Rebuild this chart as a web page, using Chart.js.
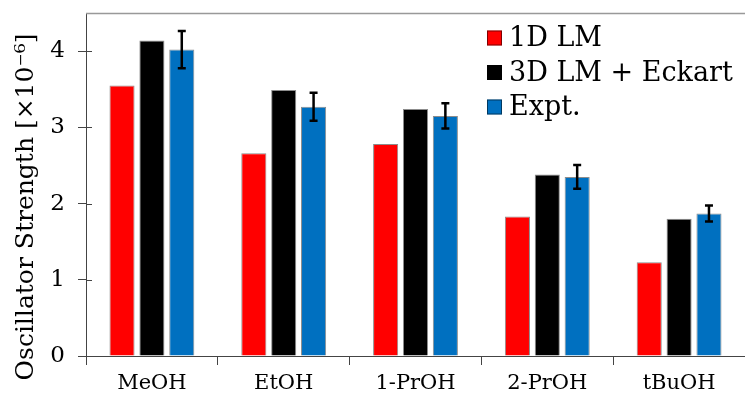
<!DOCTYPE html>
<html lang="en">
<head>
    <meta charset="UTF-8">
    <title>Oscillator Strength</title>
    <style>
        html, body { margin: 0; padding: 0; background: #fff; }
        #wrap { width: 745px; height: 394px; position: relative; }
    </style>
    <script src="https://cdn.jsdelivr.net/npm/chart.js"></script>
</head>
<body>
    <div id="wrap"><canvas id="chart" width="745" height="394"></canvas></div>

    <script>
        const categories = ["MeOH", "EtOH", "1-PrOH", "2-PrOH", "tBuOH"];
        const lm1d = [3.55, 2.66, 2.78, 1.83, 1.23];
        const lm3d = [4.14, 3.49, 3.24, 2.38, 1.80];
        const expt = [4.02, 3.27, 3.15, 2.35, 1.87];
        const exptErr = [0.245, 0.185, 0.165, 0.155, 0.105];
        const yTicks = [0, 1, 2, 3, 4];
        const yTitle = "Oscillator Strength [×10⁻⁶]";

        const SERIF = "'DejaVu Serif', 'Liberation Serif', serif";

        // error bars on the Expt. series
        const errorBars = {
            id: "errorBars",
            afterDatasetsDraw(chart) {
                const ctx = chart.ctx;
                const y = chart.scales.y;
                const meta = chart.getDatasetMeta(2);
                ctx.save();
                ctx.strokeStyle = "#000";
                ctx.lineWidth = 2.5;
                meta.data.forEach((bar, i) => {
                    const top = y.getPixelForValue(expt[i] + exptErr[i]);
                    const bot = y.getPixelForValue(expt[i] - exptErr[i]);
                    ctx.beginPath();
                    ctx.moveTo(bar.x, top);
                    ctx.lineTo(bar.x, bot);
                    ctx.moveTo(bar.x - 4, top);
                    ctx.lineTo(bar.x + 4, top);
                    ctx.moveTo(bar.x - 4, bot);
                    ctx.lineTo(bar.x + 4, bot);
                    ctx.stroke();
                });
                ctx.restore();
            }
        };

        // frame bits, inner y ticks, rotated title and legend
        const decorations = {
            id: "decorations",
            afterDraw(chart) {
                const ctx = chart.ctx;
                const area = chart.chartArea;
                const y = chart.scales.y;
                ctx.save();
                ctx.strokeStyle = "#999";
                ctx.lineWidth = 1.5;
                ctx.beginPath();
                ctx.moveTo(area.left, area.top + 0.5);
                ctx.lineTo(area.right, area.top + 0.5);
                ctx.stroke();

                ctx.strokeStyle = "#444";
                ctx.lineWidth = 1;
                yTicks.forEach(v => {
                    const py = Math.round(y.getPixelForValue(v)) + 0.5;
                    ctx.beginPath();
                    ctx.moveTo(area.left, py);
                    ctx.lineTo(area.left + 6, py);
                    ctx.stroke();
                });

                ctx.fillStyle = "#000";
                ctx.font = "25px " + SERIF;
                ctx.textAlign = "center";
                ctx.textBaseline = "middle";
                ctx.translate(26, 207);
                ctx.rotate(-Math.PI / 2);
                ctx.fillText(yTitle, 0, 0);
                ctx.restore();

                ctx.save();
                ctx.font = "27px " + SERIF;
                ctx.textBaseline = "middle";
                ctx.textAlign = "left";
                chart.data.datasets.forEach((ds, i) => {
                    const cy = 38 + i * 34.5;
                    ctx.fillStyle = ds.backgroundColor;
                    ctx.fillRect(487, cy - 7.5, 15, 15);
                    ctx.strokeStyle = "rgba(0,0,0,0.5)";
                    ctx.lineWidth = 1;
                    ctx.strokeRect(487.5, cy - 7, 14, 14);
                    ctx.fillStyle = "#000";
                    ctx.fillText(ds.label, 509, cy + 1);
                });
                ctx.restore();
            }
        };

        const barStyle = { borderWidth: 1, borderColor: "rgba(0,0,0,0.45)", borderSkipped: "bottom",
            categoryPercentage: 0.68, barPercentage: 0.84 };

        new Chart(document.getElementById("chart"), {
            type: "bar",
            data: {
                labels: categories,
                datasets: [
                    { label: "1D LM", data: lm1d, backgroundColor: "#ff0000", ...barStyle },
                    { label: "3D LM + Eckart", data: lm3d, backgroundColor: "#000000", ...barStyle },
                    { label: "Expt.", data: expt, backgroundColor: "#0070c0", ...barStyle }
                ]
            },
            options: {
                responsive: false,
                animation: false,
                layout: { padding: { top: 13, right: 0, left: 0, bottom: 0 } },
                plugins: { legend: { display: false }, tooltip: { enabled: false } },
                scales: {
                    x: {
                        grid: { display: true, drawOnChartArea: false, offset: true, tickLength: 9, color: "#444" },
                        border: { color: "#444", width: 1 },
                        ticks: { color: "#000", font: { family: SERIF, size: 21 }, padding: 6 },
                        afterFit(scale) { scale.height = 38; scale.paddingLeft = 0; scale.paddingRight = 0; }
                    },
                    y: {
                        min: 0,
                        max: 4.5,
                        afterBuildTicks(scale) { scale.ticks = yTicks.map(v => ({ value: v })); },
                        grid: { display: true, drawOnChartArea: false, tickLength: 8, color: "#444" },
                        border: { color: "#444", width: 1 },
                        ticks: { color: "#000", font: { family: SERIF, size: 23 }, padding: 13 },
                        afterFit(scale) { scale.width = 86; scale.paddingTop = 0; scale.paddingBottom = 0; }
                    }
                }
            },
            plugins: [errorBars, decorations]
        });
    </script>
</body>
</html>
